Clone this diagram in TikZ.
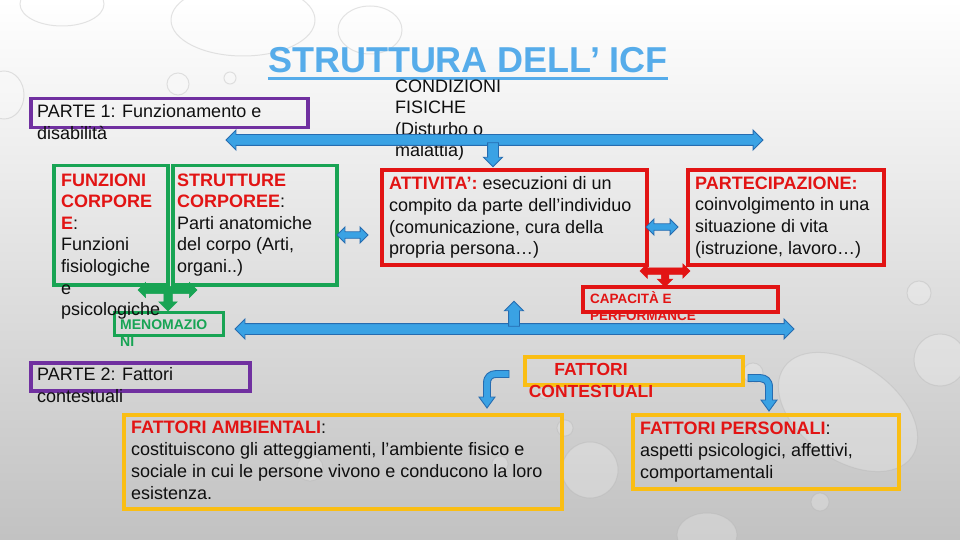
\documentclass[tikz,border=0pt]{standalone}
\usepackage{fontspec}
\setmainfont{Liberation Sans}
\usetikzlibrary{shapes.arrows}
\definecolor{ttl}{RGB}{86,172,234}
\definecolor{pur}{RGB}{112,48,160}
\definecolor{grn}{RGB}{24,164,84}
\definecolor{rd}{RGB}{226,20,20}
\definecolor{ylw}{RGB}{250,190,20}
\definecolor{bl}{RGB}{58,162,228}
\definecolor{bldk}{RGB}{38,108,176}
\definecolor{ink}{RGB}{15,15,15}
\tikzset{
  frame/.style={draw, anchor=north west, inner sep=0pt},
  txt/.style={anchor=north west, inner sep=0pt, align=left, text=ink, font={\fontsize{18}{21.6}\selectfont}},
  blk/.style={draw=bldk, fill=bl, line width=0.9pt, inner xsep=0pt, outer sep=0pt},
  dbl/.style={double arrow, double arrow tip angle=90, double arrow head indent=0pt},
  sgl/.style={single arrow, single arrow tip angle=90, single arrow head indent=0pt},
  grnar/.style={draw=grn, fill=grn, line width=0.5pt, inner xsep=0pt, outer sep=0pt},
  rdar/.style={draw=rd, fill=rd, line width=0.5pt, inner xsep=0pt, outer sep=0pt},
  drop/.style={fill=white, fill opacity=0.22, draw=black!30, draw opacity=0.35, line width=1pt}
}
\begin{document}
\begin{tikzpicture}[x=1pt,y=-1pt]
\useasboundingbox (0,0) rectangle (960,540);
\shade[top color=white, middle color=black!5, bottom color=black!24] (0,0) rectangle (960,540);

% water drops (background decoration)
\path[drop] (62,4) ellipse [x radius=42, y radius=22];
\path[drop] (243,20) ellipse [x radius=72, y radius=36];
\path[drop] (370,30) ellipse [x radius=32, y radius=24];
\path[drop] (4,95) ellipse [x radius=20, y radius=24];
\path[drop] (178,84) circle [radius=11];
\path[drop] (230,78) circle [radius=6];
\path[drop] (919,293) circle [radius=12];
\path[drop] (940,360) circle [radius=26];
\path[drop, rotate around={-35:(848,412)}] (848,412) ellipse [x radius=78, y radius=48];
\path[drop] (753,373) circle [radius=10];
\path[drop] (565,428) circle [radius=8];
\path[drop] (590,470) circle [radius=28];
\path[drop] (820,502) circle [radius=9];
\path[drop] (707,535) ellipse [x radius=30, y radius=22];
\path[drop] (310,468) circle [radius=13];
\path[drop] (500,464) circle [radius=8];
\path[drop] (545,393) circle [radius=6];

% title
\node[anchor=base, inner sep=0pt, text=ttl, font={\fontsize{36}{40}\selectfont\bfseries}] (title) at (468,73) {STRUTTURA DELL’ ICF};
\draw[ttl, line width=3pt] ([yshift=-5.5pt]title.base west) -- ([yshift=-5.5pt]title.base east);

% frames
\node[frame, draw=pur, line width=3.5pt, minimum width=277pt, minimum height=29pt] (p1) at (29,97) {};
\node[frame, draw=grn, line width=3.5pt, minimum width=114pt, minimum height=119pt] (funzbox) at (52,164) {};
\node[frame, draw=grn, line width=3.5pt, minimum width=164pt, minimum height=119pt] (struttbox) at (171,164) {};
\node[frame, draw=grn, line width=3pt, minimum width=109pt, minimum height=23pt] (menbox) at (113,311) {};
\node[frame, draw=rd, line width=4pt, minimum width=265pt, minimum height=95pt] (attbox) at (380,168) {};
\node[frame, draw=rd, line width=4pt, minimum width=196pt, minimum height=95pt] (partbox) at (686,168) {};
\node[frame, draw=rd, line width=3.5pt, minimum width=195pt, minimum height=25pt] (capbox) at (581,285) {};
\node[frame, draw=pur, line width=3.5pt, minimum width=219pt, minimum height=28pt] (p2) at (29,361) {};
\node[frame, draw=ylw, line width=4pt, minimum width=218pt, minimum height=28pt] (fcbox) at (523,355) {};
\node[frame, draw=ylw, line width=4pt, minimum width=438pt, minimum height=94pt] (ambbox) at (122,413) {};
\node[frame, draw=ylw, line width=4pt, minimum width=266pt, minimum height=74pt] (persbox) at (631,413) {};

% texts
\node[txt] (p1t) at (37,104.4) {PARTE 1: Funzionamento e\\disabilità};
\node[txt] (cond) at (395,79.4) {CONDIZIONI\\FISICHE\\(Disturbo o\\malattia)};
\node[txt] (funz) at (61,173.4) {{\color{rd}\bfseries FUNZIONI}\\{\color{rd}\bfseries CORPORE}\\{\color{rd}\bfseries E}:\\Funzioni\\fisiologiche\\e\\psicologiche};
\node[txt] (strutt) at (177,173.4) {{\color{rd}\bfseries STRUTTURE}\\{\color{rd}\bfseries CORPOREE}:\\Parti anatomiche\\del corpo (Arti,\\organi..)};
\node[txt, text=grn, font={\fontsize{14}{17}\selectfont\bfseries}] (men) at (120,319.5) {MENOMAZIO\\NI};
\node[txt] (att) at (389,176.6) {{\color{rd}\bfseries ATTIVITA’:} esecuzioni di un\\compito da parte dell’individuo\\(comunicazione, cura della\\propria persona…)};
\node[txt] (part) at (695,176.6) {{\color{rd}\bfseries PARTECIPAZIONE:}\\coinvolgimento in una\\situazione di vita\\(istruzione, lavoro…)};
\node[txt, text=rd, font={\fontsize{13.5}{16.5}\selectfont\bfseries}] (cap) at (590,291.6) {CAPACITÀ E\\PERFORMANCE};
\node[txt] (p2t) at (37,367.5) {PARTE 2: Fattori\\contestuali};
\node[txt, anchor=north, align=center, text=rd, font={\fontsize{17.5}{22}\selectfont\bfseries}] (fc) at (591,363.5) {FATTORI\\CONTESTUALI};
\node[txt, font={\fontsize{18}{22.2}\selectfont}] (amb) at (131,420.6) {{\color{rd}\bfseries FATTORI AMBIENTALI}:\\costituiscono gli atteggiamenti, l’ambiente fisico e\\sociale in cui le persone vivono e conducono la loro\\esistenza.};
\node[txt, font={\fontsize{18}{22}\selectfont}] (pers) at (640,421.4) {{\color{rd}\bfseries FATTORI PERSONALI}:\\aspetti psicologici, affettivi,\\comportamentali};

% blue block arrows
\node[blk, dbl, minimum height=537pt, inner ysep=5pt, double arrow head extend=4.5pt] (topar) at (494.5,140) {};
\node[blk, sgl, rotate=-90, minimum height=24pt, inner ysep=5pt, single arrow head extend=4pt] (topdown) at (493,152) {};
\node[blk, dbl, minimum height=559pt, inner ysep=5pt, double arrow head extend=4.5pt] (midar) at (514.5,329) {};
\node[blk, sgl, rotate=90, minimum height=25pt, inner ysep=5pt, single arrow head extend=4pt] (midup) at (514,316.5) {};
\node[blk, dbl, minimum height=31pt, inner ysep=2.8pt, double arrow head extend=4.7pt] (s1) at (352.5,235) {};
\node[blk, dbl, minimum height=32pt, inner ysep=2.8pt, double arrow head extend=4.7pt] (s2) at (662,227) {};

% green T arrow
\node[grnar, dbl, minimum height=59pt, inner ysep=3.3pt, double arrow head extend=4pt] (gh) at (167.5,290) {};
\node[grnar, sgl, rotate=-90, minimum height=19pt, inner ysep=4pt, single arrow head extend=5pt] (gd) at (168,299.5) {};

% red T arrow
\node[rdar, dbl, minimum height=50pt, inner ysep=3pt, double arrow head extend=4pt] (rh) at (665,271) {};
\node[rdar, sgl, rotate=-90, minimum height=14pt, inner ysep=3.5pt, single arrow head extend=4pt] (rdn) at (665,278) {};

% curved arrows
\filldraw[blk] (509,370.5) -- (496,370.5) .. controls (489,370.5) and (483.5,375) .. (483.5,383) -- (483.5,397) -- (479,397) -- (487,408) -- (495,397) -- (490.5,397) -- (490.5,383) .. controls (490.5,379.5) and (492.5,377.5) .. (496,377.5) -- (509,377.5) -- cycle;
\filldraw[blk] (748,374.5) -- (760,374.5) .. controls (767,374.5) and (772.5,379) .. (772.5,387) -- (772.5,400) -- (777,400) -- (769,411) -- (761,400) -- (765.5,400) -- (765.5,387) .. controls (765.5,383) and (763,381.5) .. (760,381.5) -- (748,381.5) -- cycle;
\end{tikzpicture}
\end{document}
